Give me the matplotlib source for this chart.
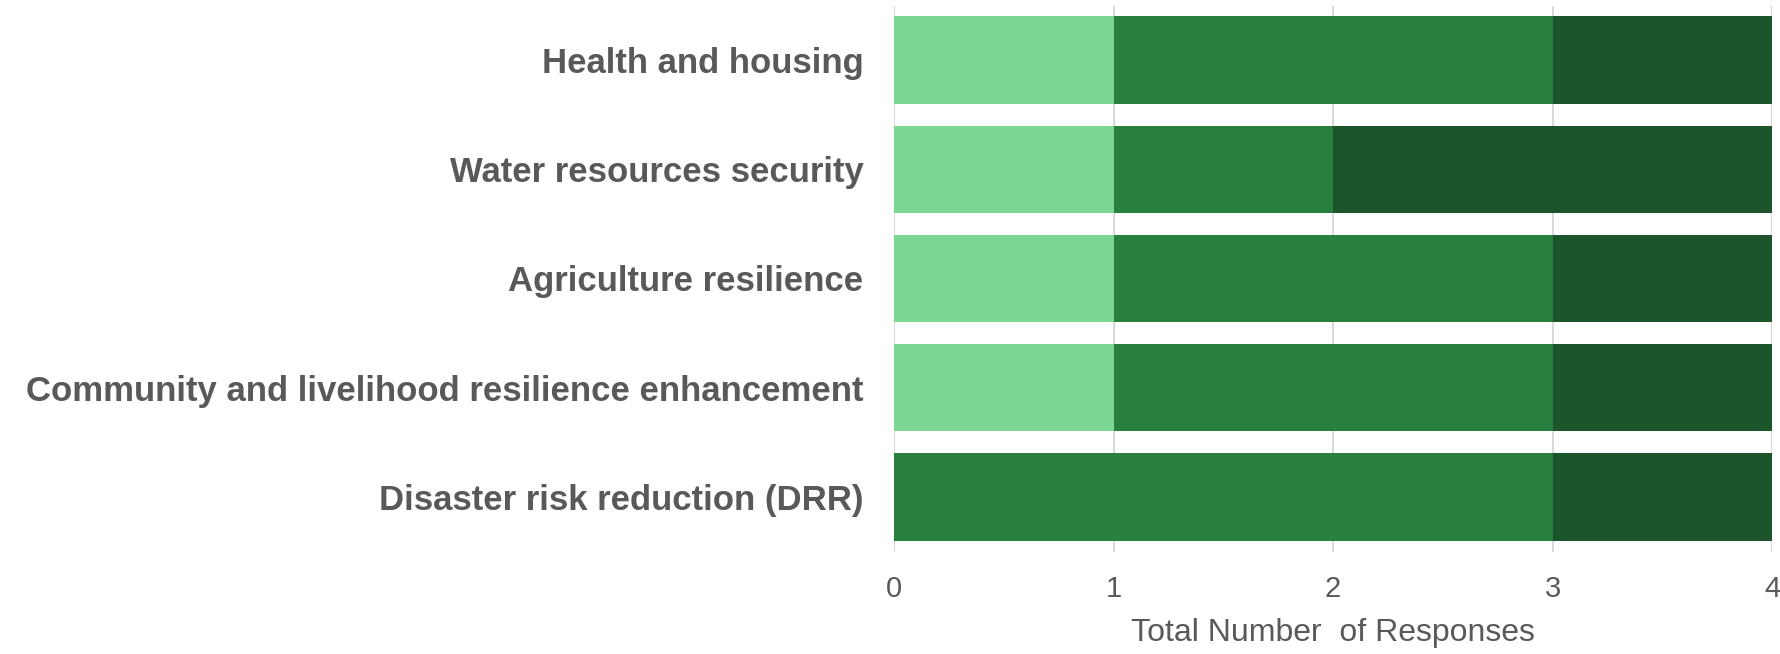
#!/usr/bin/env python3
# -*- coding: utf-8 -*-
"""Respostas por area de adaptacao (barras horizontais empilhadas)."""
import matplotlib

matplotlib.use("Agg")
import matplotlib.pyplot as plt
import numpy as np

CATEGORIES = [
    "Health and housing",
    "Water resources security",
    "Agriculture resilience",
    "Community and livelihood resilience enhancement",
    "Disaster risk reduction (DRR)",
]
LIGHT = [1, 1, 1, 1, 0]
MID = [2, 1, 2, 2, 3]
DARK = [1, 2, 1, 1, 1]
X_TICKS = [0, 1, 2, 3, 4]

COLORS = ["#7cd795", "#287f40", "#1b5529"]
TEXT = "#595959"

plt.rcParams["font.family"] = ["Liberation Sans", "DejaVu Sans"]

fig = plt.figure(figsize=(17.8, 6.54), dpi=100)
ax = fig.add_axes([894 / 1780, 1 - 551.5 / 654, 878 / 1780, 546 / 654])

y = np.arange(len(CATEGORIES))
left = np.zeros(len(CATEGORIES))
for vals, color in zip((LIGHT, MID, DARK), COLORS):
    ax.barh(y, vals, left=left, height=0.8, color=color, zorder=2)
    left += np.array(vals)

ax.set_ylim(len(CATEGORIES) - 0.5, -0.5)
ax.set_xlim(0, 4)
ax.set_xticks(X_TICKS)
ax.set_yticks(y)
ax.set_yticklabels(CATEGORIES, fontsize=25, fontweight="bold", color=TEXT)
ax.tick_params(axis="y", length=0, pad=22)
ax.tick_params(axis="x", length=0, pad=17, labelsize=21, labelcolor=TEXT)
ax.xaxis.grid(True, color="#d9d9d9", linewidth=1.5, zorder=0)
ax.set_axisbelow(True)
for s in ax.spines.values():
    s.set_visible(False)
ax.set_xlabel("Total Number  of Responses", fontsize=23, color=TEXT, labelpad=11)

fig.savefig("out.png", dpi=100)
